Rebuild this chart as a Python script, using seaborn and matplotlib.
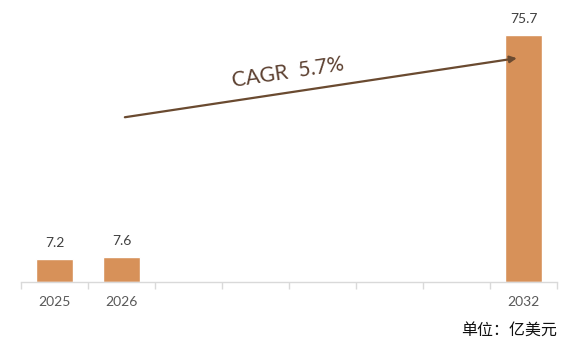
import numpy as np
import pandas as pd
import matplotlib
matplotlib.use("Agg")
import matplotlib.pyplot as plt
import seaborn as sns

# data
all_years = ["2025", "2026", "2027", "2028", "2029", "2030", "2031", "2032"]
shown_years = ["2025", "2026", "2032"]
values = [7.2, 7.6, 75.7]
tick_labels = ["2025", "2026", "", "", "", "", "", "2032"]
cagr_text = "CAGR  5.7%"
unit_text = "单位：亿美元"

sns.set_theme(style="white")
plt.rcParams["font.family"] = ["Lato", "Noto Sans CJK SC", "DejaVu Sans"]

fig = plt.figure(figsize=(5.74, 3.48), dpi=100)
ax = fig.add_axes([21 / 574, (348 - 282) / 348, (557 - 21) / 574, 261 / 348])

df = pd.DataFrame({"year": shown_years, "value": values})
sns.barplot(data=df, x="year", y="value", order=all_years, color="#D79159",
            saturation=1, width=0.54, ax=ax)

for c in ax.containers:
    ax.bar_label(c, fmt="%.1f", padding=7, fontsize=10, color="#404040")

ax.set_xlim(-0.5, len(all_years) - 0.5)
ax.set_ylim(0, 80)
ax.set_xlabel("")
ax.set_ylabel("")
ax.set_yticks([])
ax.set_xticks(range(len(all_years)))
ax.set_xticklabels(tick_labels, fontsize=10, color="#595959")
ax.set_xticks(np.arange(-0.5, len(all_years)), minor=True)
ax.tick_params(axis="x", which="major", length=0, pad=10)
ax.tick_params(axis="x", which="minor", length=5, width=1, color="#D9D9D9", bottom=True)
for s in ["top", "right", "left"]:
    ax.spines[s].set_visible(False)
ax.spines["bottom"].set_color("#D9D9D9")
ax.spines["bottom"].set_linewidth(1)

# CAGR arrow
ax.annotate("", xy=(6.9, 68.6), xytext=(1.05, 50.5),
            arrowprops=dict(arrowstyle="-|>", color="#6A4A30", lw=1.6,
                            mutation_scale=10, shrinkA=0, shrinkB=0))
ax.text(3.48, 64.3, cagr_text, fontsize=15, color="#5C4030", rotation=8.6,
        ha="center", va="center", rotation_mode="anchor")

fig.text(557 / 574, 1 - 330 / 348, unit_text, ha="right", va="center",
         fontsize=11.5, color="#111111", family=["Noto Sans CJK SC", "DejaVu Sans"])

fig.savefig("out.png", dpi=100)
